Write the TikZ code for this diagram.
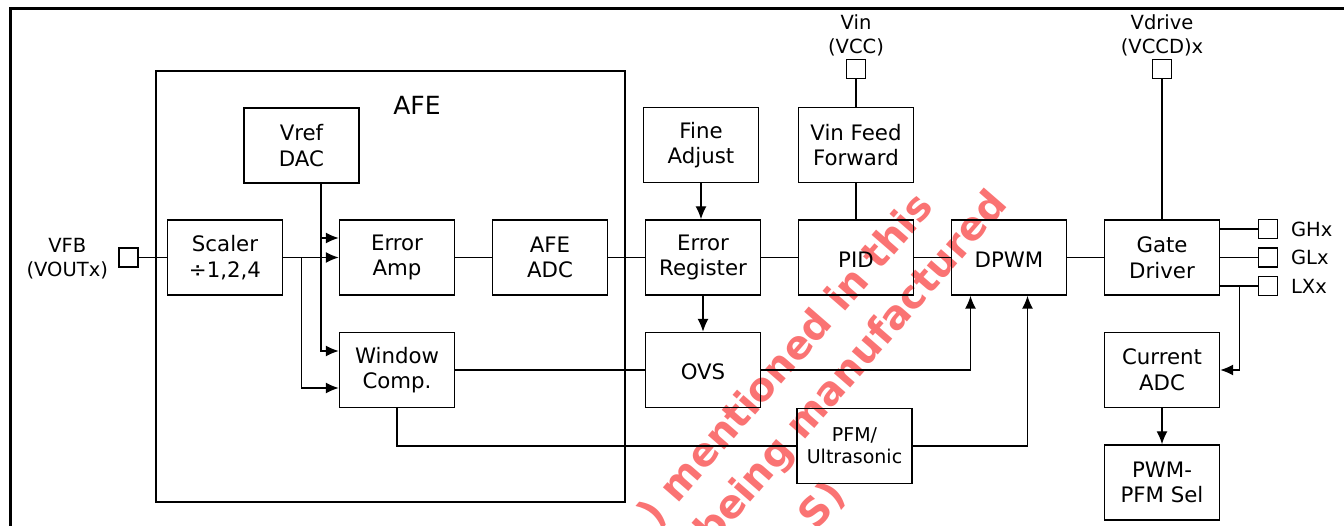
\documentclass[tikz,border=0pt]{standalone}
\usepackage{fontspec}
\setmainfont{DejaVu Sans}
\usepackage{tikz}
\usetikzlibrary{shapes,arrows,arrows.meta,calc}
\definecolor{wmred}{RGB}{250,115,115}
\tikzstyle{blk} = [draw, line width=1.4pt, minimum width=115pt, minimum height=75pt, inner sep=0pt, text centered, align=center, execute at begin node={\rule{0pt}{19.5pt}}]
\tikzstyle{pin} = [draw, line width=1.4pt, minimum size=19pt, inner sep=0pt]
\tikzstyle{lbl} = [inner sep=0pt, align=center, font=\fontsize{19.5}{24}\selectfont]
\tikzstyle{wire} = [line width=1.4pt]
\tikzstyle{wm} = [inner sep=0pt, rotate=49, text=wmred, font=\bfseries\fontsize{39.5}{47}\selectfont]
\def\colstep{153}
\def\rowstep{112.5}
\pgfdeclarelayer{background}
\pgfsetlayers{background,main}

\begin{document}
\begin{tikzpicture}[x=1pt, y=1pt, >={Latex[length=13pt,width=11pt]}, font=\fontsize{21.3}{25.6}\selectfont]
    \useasboundingbox (0,0) rectangle (1344,525);
    \draw[line width=3pt] (10,516.5) rectangle (1400,-40);

    % AFE frame
    \draw[wire] (156,454) rectangle (625,23);
    \node (afe) at (417,420) {\fontsize{25}{30}\selectfont AFE};

    \path (225,267.5) node (scaler) [blk] {Scaler\\÷1,2,4};
    \path (scaler)+(172,0) node (erramp) [blk] {Error\\Amp};
    \path (erramp)+(\colstep,0) node (afeadc) [blk] {AFE\\ADC};
    \path (afeadc)+(\colstep,0) node (errreg) [blk] {Error\\Register};
    \path (errreg)+(\colstep,0) node (pid) [blk] {PID};
    \path (pid)+(\colstep,0) node (dpwm) [blk] {DPWM};
    \path (dpwm)+(\colstep,0) node (gatedrv) [blk] {Gate\\Driver};

    \path (scaler)+(76.5,112) node (vrefdac) [blk] {Vref\\DAC};
    \path (errreg)+(-2,\rowstep) node (fineadj) [blk] {Fine\\Adjust};
    \path (pid)+(0,\rowstep) node (vinff) [blk] {Vin Feed\\Forward};

    \path (erramp)+(0,-\rowstep) node (wincomp) [blk] {Window\\Comp.};
    \path (errreg)+(0,-\rowstep) node (ovs) [blk] {OVS};
    \path (pid)+(-1.5,-188.5) node (pfm) [blk, font=\fontsize{19}{22}\selectfont] {PFM/\\Ultrasonic};
    \path (gatedrv)+(0,-\rowstep) node (curadc) [blk] {Current\\ADC};
    \path (curadc)+(0,-\rowstep) node (pwmsel) [blk] {PWM-\\PFM Sel};

    % pins
    \path (scaler.west)+(-38.5,0) node (vfbpin) [pin] {};
    \path (vfbpin.west)+(-10,-1) node (vfblbl) [lbl, anchor=east] {VFB\\(VOUTx)};
    \path (vinff.north)+(0,38) node (vinpin) [pin] {};
    \path (vinpin.north)+(0,2.5) node (vinlbl) [lbl, anchor=south] {Vin\\(VCC)};
    \path (gatedrv |- vinpin) node (vdrvpin) [pin] {};
    \path (vdrvpin.north)+(0,2.5) node (vdrvlbl) [lbl, anchor=south] {Vdrive\\(VCCD)x};
    \path (gatedrv.east)+(48,28.5) node (ghpin) [pin] {};
    \path (gatedrv.east)+(48,0) node (glpin) [pin] {};
    \path (gatedrv.east)+(48,-28.5) node (lxpin) [pin] {};
    \path (ghpin.east)+(12.5,0) node (ghlbl) [lbl, anchor=west] {GHx};
    \path (glpin.east)+(12.5,0) node (gllbl) [lbl, anchor=west] {GLx};
    \path (lxpin.east)+(12.5,0) node (lxlbl) [lbl, anchor=west] {LXx};

    % AFE wiring
    \draw[wire] (vfbpin) -- (scaler);
    \draw[wire,->] (scaler) -- (erramp);
    \path (scaler.east)+(18.5,0) coordinate (sclbr);
    \draw[wire,->] (sclbr) |- ($(wincomp.west)+(0,-18)$);
    \path (vrefdac.south)+(19.5,0) coordinate (dacbr);
    \draw[wire,->] (dacbr) |- ($(erramp.west)+(0,19.5)$);
    \draw[wire,->] (dacbr) |- ($(wincomp.west)+(0,19)$);
    \draw[wire] (erramp) -- (afeadc);
    \draw[wire] (afeadc) -- (errreg);

    % control path
    \draw[wire,->] (fineadj.south) -- (fineadj.south |- errreg.north);
    \draw[wire,->] (errreg) -- (ovs);
    \draw[wire] (errreg) -- (pid);
    \draw[wire] (vinpin) -- (vinff);
    \draw[wire] (vinff) -- (pid);
    \draw[wire] (pid) -- (dpwm);
    \draw[wire] (wincomp) -- (ovs);
    \path (dpwm.south)+(-38.5,0) coordinate (dpwmin1);
    \path (dpwm.south)+(18.5,0) coordinate (dpwmin2);
    \draw[wire,->] (ovs.east) -| (dpwmin1);
    \draw[wire] (wincomp.south) |- (pfm.west);
    \draw[wire,->] (pfm.east) -| (dpwmin2);

    % driver side
    \draw[wire] (dpwm) -- (gatedrv);
    \draw[wire] (vdrvpin) -- (gatedrv);
    \draw[wire] (gatedrv.east |- ghpin) -- (ghpin);
    \draw[wire] (gatedrv.east |- glpin) -- (glpin);
    \draw[wire] (gatedrv.east |- lxpin) -- (lxpin);
    \path (gatedrv.east |- lxpin)+(19,0) coordinate (lxbr);
    \draw[wire,->] (lxbr) |- (curadc.east);
    \draw[wire,->] (curadc) -- (pwmsel);

    \begin{pgfonlayer}{background}
        \path (935,317) node (wmline1) [wm, anchor=base east] {) mentioned in this};
        \path (1009,320) node (wmline2) [wm, anchor=base east] {being manufactured};
        \path (847,29) node (wmline3) [wm, anchor=base east] {S)};
    \end{pgfonlayer}
\end{tikzpicture}
\end{document}
